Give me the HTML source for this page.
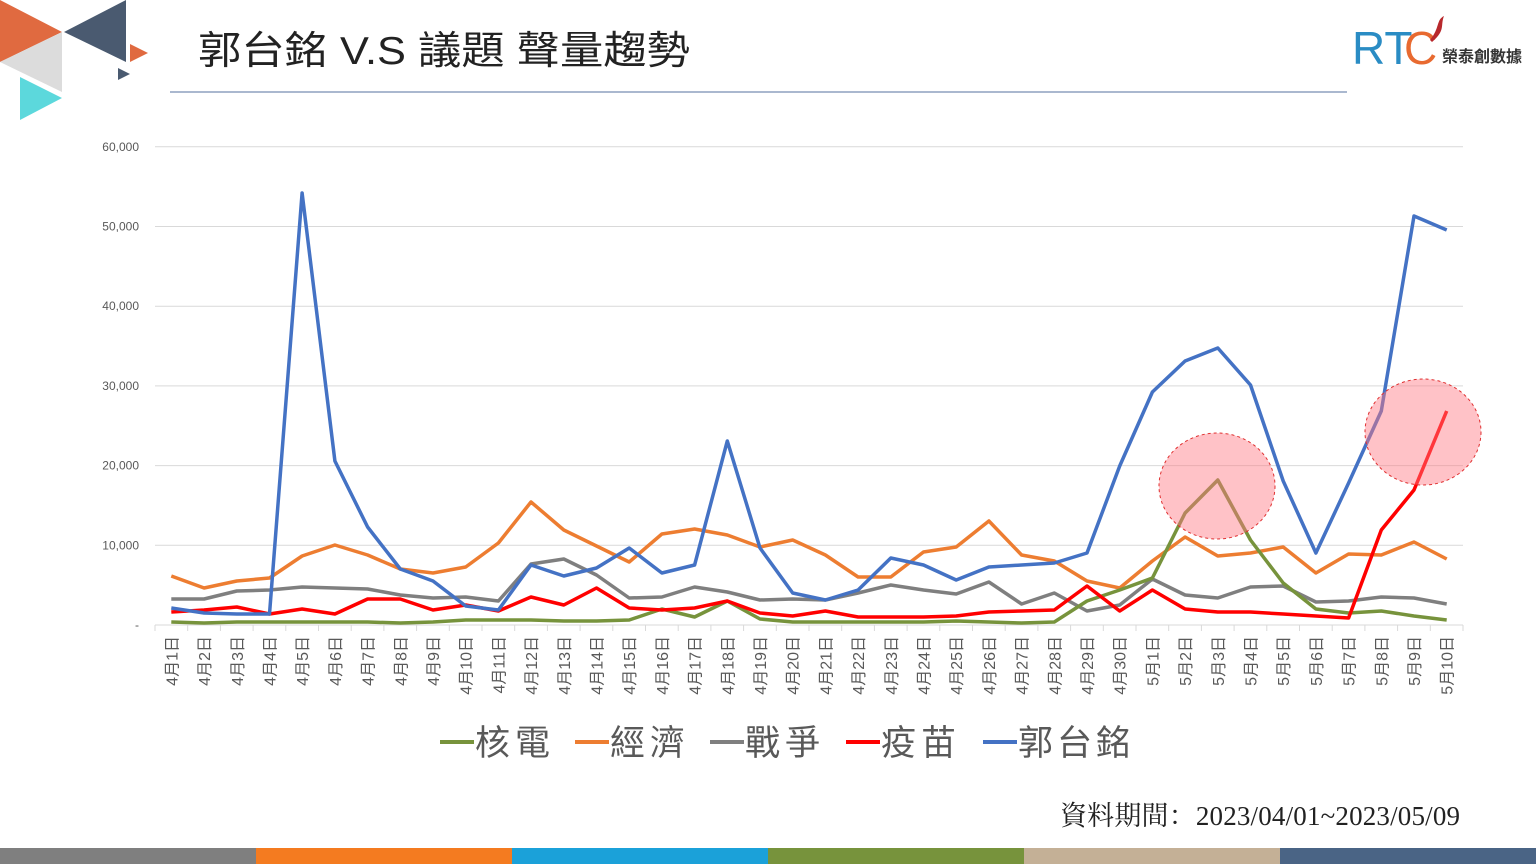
<!DOCTYPE html><html><head><meta charset="utf-8"><style>
body{margin:0;width:1536px;height:864px;overflow:hidden;background:#fff;font-family:"Liberation Sans","Noto Sans CJK TC",sans-serif}
</style></head><body>
<svg id="s" width="1536" height="864" xmlns="http://www.w3.org/2000/svg" style="position:absolute;left:0;top:0">
<polygon points="0,0 62,32 0,62" fill="#e06a40"/>
<polygon points="62,32 0,62 62,92" fill="#dcdcdc"/>
<polygon points="64,32 126,0 126,62" fill="#4a5a70"/>
<polygon points="130,44 148,53 130,62" fill="#e06a40"/>
<polygon points="118,68 130,74 118,80" fill="#4a5a70"/>
<polygon points="20,77 62,98 20,120" fill="#5cd8dc"/>
<text x="198" y="64" font-size="39" fill="#222" textLength="492" lengthAdjust="spacingAndGlyphs">郭台銘 V.S 議題 聲量趨勢</text>
<line x1="170" y1="92" x2="1347" y2="92" stroke="#8ea0bf" stroke-width="1.5"/>
<text x="1352" y="64" font-size="46" fill="#2a8cc4" font-family="Liberation Sans,sans-serif">RT</text>
<text x="1404" y="64" font-size="46" fill="#e86a30" font-family="Liberation Sans,sans-serif">C</text>
<path d="M1430,40 C1440,28 1436,20 1444,16 C1440,26 1446,30 1432,42Z" fill="#b8282c"/>
<text x="1442" y="62" font-size="16" font-weight="bold" fill="#333">榮泰創數據</text>
<g id="g"></g>
<g font-size="35" fill="#595959">
<line x1="440" y1="742" x2="474" y2="742" stroke="#77933c" stroke-width="4"/><text x="475" y="755" textLength="75">核電</text>
<line x1="575" y1="742" x2="609" y2="742" stroke="#ed7d31" stroke-width="4"/><text x="610" y="755" textLength="75">經濟</text>
<line x1="710" y1="742" x2="744" y2="742" stroke="#7f7f7f" stroke-width="4"/><text x="745" y="755" textLength="75">戰爭</text>
<line x1="846" y1="742" x2="880" y2="742" stroke="#ff0000" stroke-width="4"/><text x="881" y="755" textLength="75">疫苗</text>
<line x1="983" y1="742" x2="1017" y2="742" stroke="#4472c4" stroke-width="4"/><text x="1018" y="755" textLength="113">郭台銘</text>
</g>
<text x="1060" y="825" font-size="27" fill="#222" font-family="Liberation Serif,'Noto Serif CJK SC',serif" textLength="400">資料期間：2023/04/01~2023/05/09</text>
<rect x="0" y="848" width="256" height="16" fill="#7f7f7f"/><rect x="256" y="848" width="256" height="16" fill="#f47b20"/><rect x="512" y="848" width="256" height="16" fill="#1ba1d9"/><rect x="768" y="848" width="256" height="16" fill="#77933c"/><rect x="1024" y="848" width="256" height="16" fill="#c4b096"/><rect x="1280" y="848" width="256" height="16" fill="#4a6485"/>
</svg>
<script>
var g=document.getElementById('g'),h='';
for(var i=0;i<=6;i++){var y=625-i*79.7;if(i>0)h+='<line x1="155" y1="'+y+'" x2="1463" y2="'+y+'" stroke="#d9d9d9"/>';
h+='<text x="139" y="'+(y+4)+'" font-size="12" fill="#595959" text-anchor="end">'+(i?(i*10)+',000':'-')+'</text>';}
h+='<line x1="155" y1="625" x2="1463" y2="625" stroke="#d9d9d9"/>';
var st=(1463-155)/40;
for(var i=0;i<=40;i++){var x=155+i*st;h+='<line x1="'+x+'" y1="625" x2="'+x+'" y2="631" stroke="#d9d9d9"/>';}
for(var i=0;i<40;i++){var x=155+(i+.5)*st;var lab=i<30?('4月'+(i+1)+'日'):('5月'+(i-29)+'日');
h+='<text transform="translate('+(x+6)+',636) rotate(-90)" font-size="16" fill="#595959" text-anchor="end">'+lab+'</text>';}
var D={
'#ed7d31':[576,588,581,578,556,545,555,569,573,567,543,502,530,546,562,534,529,535,547,540,555,577,577,552,547,521,555,561,581,588,561,537,556,553,547,573,554,555,542,559],
'#7f7f7f':[599,599,591,590,587,588,589,595,598,597,601,564,559,575,598,597,587,592,600,599,600,593,585,590,594,582,604,593,611,605,579,595,598,587,586,602,601,597,598,604],
'#77933c':[622,623,622,622,622,622,622,623,622,620,620,620,621,621,620,609,617,601,619,622,622,622,622,622,621,622,623,622,601,590,578,513,480,540,583,609,613,611,616,620],
'#ff0000':[612,610,607,614,609,614,599,599,610,605,611,597,605,588,608,610,608,601,613,616,611,617,617,617,616,612,611,610,586,611,590,609,612,612,614,616,618,530,490,411],
'#4472c4':[608,613,614,614,193,461,527,569,581,606,610,565,576,568,548,573,565,441,548,593,600,590,558,565,580,567,565,563,553,466,392,361,348,385,481,553,483,411,216,230]};
for(var c in D){var p=D[c].map(function(v,i){return (155+(i+.5)*st).toFixed(1)+','+v}).join(' ');
h+='<polyline points="'+p+'" fill="none" stroke="'+c+'" stroke-width="3.5" stroke-linejoin="round"/>';}
h+='<ellipse cx="1217" cy="486" rx="58" ry="53" fill="rgba(255,120,130,0.45)" stroke="#e03030" stroke-dasharray="3,3"/>';
h+='<ellipse cx="1423" cy="432" rx="58" ry="53" fill="rgba(255,120,130,0.45)" stroke="#e03030" stroke-dasharray="3,3"/>';
g.innerHTML=h;
</script>
</body></html>
